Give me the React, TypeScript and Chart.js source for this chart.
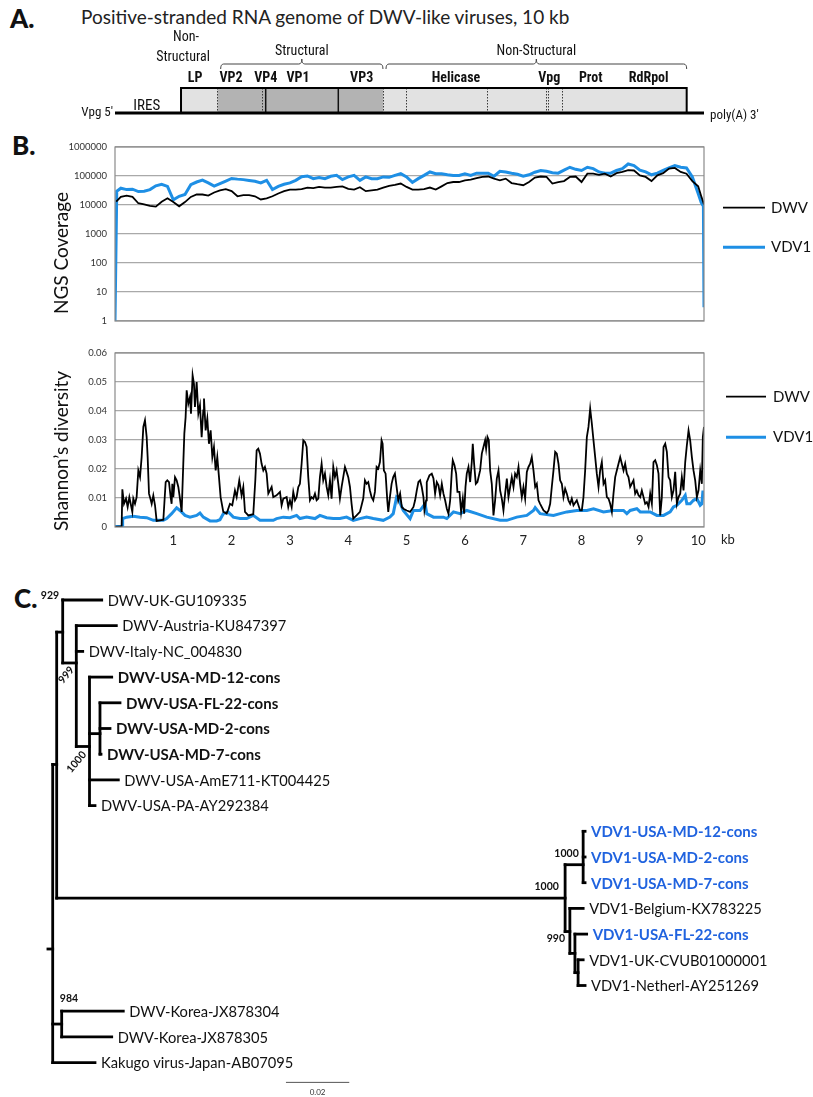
import React, { useEffect, useRef } from 'react';
import { Chart, registerables } from 'chart.js';

Chart.register(...registerables);

const W = 813;
const H = 1097;
const SANS = "Lato, 'Open Sans', 'Noto Sans', sans-serif";
const NARROW = "'Liberation Sans Narrow', 'Arial Narrow', 'Roboto Condensed', 'DejaVu Sans Condensed', sans-serif";
const BLUE_LINE = '#1e8fe5';
const BLUE_TEXT = '#2063df';
const PLOT_LEFT = 115;
const PLOT_RIGHT = 704;

// ---------------- Panel A: genome map (positions in kb) ----------------
const genomeKbMax = 10.1;
const segmentGroups = ['Non-Structural', 'Structural', 'Non-Structural'];
const segmentStartKb = [1.132, 1.754, 4.59];
const segmentEndKb = [1.754, 4.59, 9.803];
const proteinNames = ['LP', 'VP2', 'VP4', 'VP1', 'VP3', 'Helicase', 'Vpg', 'Prot', 'RdRpol'];
const proteinLabelKb = [1.372, 1.989, 2.584, 3.138, 4.23, 5.847, 7.447, 8.157, 9.151];
const dottedBoundaryKb = [1.754, 2.526, 4.59, 4.99, 6.384, 7.39, 7.43, 7.66];
const solidBoundaryKb = [2.584, 3.829];
const bracketNames = ['Structural', 'Non-Structural'];
const bracketStartKb = [1.812, 4.647];
const bracketEndKb = [4.595, 9.803];
const leaderLabelKb = 1.166;
const iresLabelKb = 0.544;

// ---------------- Panel B: NGS coverage ----------------
const coverageGridKb = Array.from({ length: 100 }, (_, i) => (i + 1) / 10);
const vdv1CoverageKb = [0, 0.03, ...coverageGridKb, 10.05, 10.09, 10.1];
const vdv1Coverage = [
  1, 30000,
  38000, 34000, 35000, 29000, 30000, 34000, 46000, 52000, 44000, 15000,
  20000, 23000, 50000, 62000, 72000, 58000, 45000, 55000, 67000, 82000,
  78000, 75000, 70000, 66000, 58000, 71000, 34000, 44000, 52000, 58000,
  71000, 95000, 100000, 81000, 89000, 81000, 98000, 105000, 75000, 93000,
  105000, 71000, 93000, 81000, 81000, 93000, 90000, 105000, 120000, 93000,
  60000, 81000, 105000, 138000, 120000, 120000, 110000, 105000, 105000, 120000,
  105000, 125000, 125000, 125000, 98000, 145000, 138000, 125000, 115000, 98000,
  110000, 135000, 155000, 145000, 130000, 125000, 160000, 200000, 170000, 155000,
  200000, 180000, 138000, 125000, 125000, 155000, 180000, 260000, 230000, 160000,
  138000, 110000, 125000, 155000, 190000, 230000, 200000, 190000, 93000, 25000,
  12600, 9000, 3,
];
const dwvCoverageKb = [0.02, ...coverageGridKb, 10.05, 10.1];
const dwvCoverage = [
  13000,
  19000, 21000, 19000, 11500, 10500, 9400, 8800, 13000, 17000, 12600,
  9000, 12600, 19000, 23000, 23000, 21000, 27000, 32000, 35000, 30000,
  20000, 22000, 22000, 20000, 15500, 17000, 20000, 25000, 30000, 34000,
  34000, 35000, 40000, 38000, 42000, 40000, 40000, 42000, 44000, 36000,
  34000, 41000, 30000, 32000, 34000, 40000, 46000, 49000, 55000, 42000,
  34000, 34000, 35000, 40000, 34000, 44000, 57000, 62000, 62000, 71000,
  75000, 84000, 93000, 96000, 81000, 71000, 81000, 57000, 52000, 48000,
  62000, 88000, 96000, 93000, 55000, 62000, 67000, 93000, 96000, 62000,
  120000, 120000, 110000, 120000, 96000, 125000, 138000, 160000, 155000, 105000,
  93000, 67000, 105000, 125000, 180000, 190000, 138000, 120000, 67000, 44000,
  21000, 10500,
];
const coverageTicks = [1, 10, 100, 1000, 10000, 100000, 1000000];

// ---------------- Panel B: Shannon's diversity ----------------
const dwvShannonKb = [
  0, 0.114, 0.126, 0.154, 0.189, 0.217, 0.246, 0.269, 0.297, 0.314, 0.343, 0.371, 0.4, 0.429, 0.457, 0.486,
  0.514, 0.543, 0.56, 0.583, 0.6, 0.629, 0.657, 0.686, 0.714, 0.771, 0.829, 0.869, 0.897, 0.926, 0.954, 0.971,
  0.983, 1.0, 1.029, 1.057, 1.086, 1.114, 1.143, 1.171, 1.189, 1.211, 1.229, 1.257, 1.286, 1.303, 1.331, 1.354,
  1.371, 1.4, 1.429, 1.457, 1.486, 1.514, 1.526, 1.554, 1.583, 1.611, 1.64, 1.669, 1.697, 1.726, 1.754, 1.783,
  1.811, 1.857, 1.914, 1.971, 2.011, 2.057, 2.086, 2.131, 2.171, 2.2, 2.229, 2.286, 2.371, 2.406, 2.429, 2.457,
  2.486, 2.514, 2.543, 2.571, 2.6, 2.629, 2.657, 2.686, 2.714, 2.771, 2.829, 2.857, 2.886, 2.943, 2.971, 3.0,
  3.029, 3.057, 3.086, 3.114, 3.143, 3.171, 3.2, 3.229, 3.257, 3.286, 3.314, 3.343, 3.371, 3.4, 3.429, 3.457,
  3.486, 3.514, 3.543, 3.571, 3.6, 3.629, 3.657, 3.686, 3.714, 3.743, 3.771, 3.8, 3.829, 3.857, 3.886, 3.914,
  3.943, 3.971, 4.0, 4.029, 4.057, 4.086, 4.143, 4.2, 4.257, 4.286, 4.314, 4.343, 4.371, 4.4, 4.429, 4.457,
  4.486, 4.514, 4.543, 4.571, 4.589, 4.611, 4.64, 4.669, 4.686, 4.714, 4.743, 4.771, 4.8, 4.829, 4.857, 4.889,
  4.918, 4.946, 5.003, 5.06, 5.118, 5.146, 5.175, 5.203, 5.232, 5.26, 5.289, 5.306, 5.335, 5.346, 5.392, 5.432,
  5.461, 5.489, 5.518, 5.547, 5.575, 5.604, 5.632, 5.661, 5.69, 5.718, 5.747, 5.775, 5.792, 5.821, 5.85, 5.872,
  5.907, 5.935, 5.964, 5.987, 6.01, 6.032, 6.061, 6.09, 6.118, 6.135, 6.158, 6.187, 6.215, 6.261, 6.29, 6.318,
  6.347, 6.364, 6.387, 6.41, 6.433, 6.461, 6.49, 6.518, 6.547, 6.576, 6.604, 6.633, 6.661, 6.69, 6.719, 6.747,
  6.776, 6.804, 6.833, 6.861, 6.89, 6.919, 6.947, 6.976, 7.004, 7.033, 7.062, 7.09, 7.119, 7.147, 7.176, 7.205,
  7.233, 7.262, 7.29, 7.348, 7.405, 7.433, 7.462, 7.49, 7.519, 7.548, 7.576, 7.605, 7.633, 7.662, 7.69, 7.719,
  7.748, 7.776, 7.805, 7.833, 7.862, 7.919, 7.976, 8.005, 8.033, 8.062, 8.091, 8.119, 8.148, 8.177, 8.205, 8.234,
  8.262, 8.291, 8.319, 8.348, 8.377, 8.405, 8.434, 8.462, 8.491, 8.52, 8.548, 8.577, 8.605, 8.634, 8.663, 8.691,
  8.72, 8.748, 8.777, 8.805, 8.834, 8.891, 8.92, 8.948, 8.977, 9.006, 9.034, 9.063, 9.091, 9.12, 9.149, 9.177,
  9.206, 9.234, 9.263, 9.292, 9.32, 9.349, 9.377, 9.406, 9.435, 9.463, 9.492, 9.52, 9.549, 9.577, 9.606, 9.635,
  9.663, 9.692, 9.72, 9.749, 9.778, 9.806, 9.835, 9.863, 9.892, 9.92, 9.949, 9.978, 10.006, 10.035, 10.063, 10.08,
  10.1,
];
const dwvShannon = [
  0, 0.0002, 0.013, 0.008, 0.0098, 0.0069, 0.0103, 0.008, 0.0052, 0.0098, 0.008, 0.0103, 0.0195, 0.0172, 0.0241, 0.0345,
  0.0368, 0.031, 0.0241, 0.0115, 0.0103, 0.008, 0.0109, 0.0075, 0.0021, 0.0023, 0.0025, 0.0155, 0.0161, 0.0155, 0.0103, 0.008,
  0.0149, 0.0103, 0.0172, 0.0161, 0.0138, 0.0098, 0.0052, 0.0218, 0.0322, 0.0379, 0.0471, 0.0425, 0.0448, 0.0391, 0.0523, 0.0494,
  0.0414, 0.05, 0.0391, 0.042, 0.031, 0.0402, 0.0443, 0.0333, 0.0374, 0.0287, 0.0333, 0.0241, 0.0276, 0.0195, 0.0241, 0.0172,
  0.0103, 0.0052, 0.0046, 0.008, 0.0075, 0.0126, 0.0103, 0.0161, 0.0109, 0.0138, 0.0052, 0.004, 0.0044, 0.0161, 0.0264, 0.027,
  0.0253, 0.0218, 0.0195, 0.0207, 0.0184, 0.0115, 0.0126, 0.0138, 0.0103, 0.0109, 0.0121, 0.0075, 0.0098, 0.0103, 0.0069, 0.0092,
  0.0069, 0.0121, 0.0092, 0.0103, 0.0138, 0.0149, 0.0218, 0.0299, 0.0293, 0.0276, 0.0172, 0.0092, 0.0103, 0.0098, 0.0115, 0.0092,
  0.0098, 0.0172, 0.0218, 0.0161, 0.0184, 0.0138, 0.0109, 0.0161, 0.0098, 0.0207, 0.0172, 0.0195, 0.0149, 0.0098, 0.0138, 0.0172,
  0.0207, 0.019, 0.0172, 0.0138, 0.008, 0.0029, 0.004, 0.0052, 0.0098, 0.0161, 0.0149, 0.0155, 0.0126, 0.0103, 0.0092, 0.0121,
  0.0207, 0.0201, 0.0224, 0.0299, 0.0287, 0.0195, 0.0184, 0.0092, 0.0052, 0.0103, 0.0149, 0.0172, 0.0184, 0.0138, 0.0092, 0.0115,
  0.0069, 0.0063, 0.0057, 0.0052, 0.0069, 0.0092, 0.0126, 0.0155, 0.0161, 0.0138, 0.0103, 0.0057, 0.0092, 0.0155, 0.0178, 0.0184,
  0.0167, 0.0115, 0.0155, 0.0144, 0.0109, 0.0149, 0.0115, 0.0092, 0.0063, 0.0046, 0.0092, 0.019, 0.023, 0.0213, 0.0184, 0.0121,
  0.0121, 0.0052, 0.0098, 0.0046, 0.0138, 0.0184, 0.0207, 0.0155, 0.0224, 0.0287, 0.0218, 0.0149, 0.0155, 0.0195, 0.0253, 0.0276,
  0.0299, 0.027, 0.031, 0.0299, 0.0195, 0.0149, 0.004, 0.0092, 0.0167, 0.0195, 0.0126, 0.0098, 0.0057, 0.0115, 0.0167, 0.0103,
  0.0138, 0.0172, 0.0138, 0.0184, 0.0172, 0.0207, 0.0149, 0.0103, 0.0138, 0.0098, 0.019, 0.0207, 0.0218, 0.0241, 0.0195, 0.0138,
  0.0149, 0.0092, 0.008, 0.0057, 0.0048, 0.0057, 0.008, 0.0138, 0.0195, 0.0259, 0.0253, 0.0218, 0.0161, 0.0149, 0.0103, 0.0132,
  0.0115, 0.0092, 0.008, 0.0098, 0.0075, 0.0092, 0.0057, 0.0057, 0.0103, 0.0195, 0.031, 0.0345, 0.0408, 0.0356, 0.0299, 0.0241,
  0.0184, 0.0138, 0.0195, 0.0224, 0.0149, 0.0161, 0.0103, 0.0098, 0.008, 0.0052, 0.0115, 0.0172, 0.0195, 0.0218, 0.0241, 0.0218,
  0.0195, 0.0218, 0.0184, 0.0172, 0.0138, 0.0161, 0.0115, 0.0126, 0.0109, 0.0103, 0.0126, 0.0103, 0.008, 0.0086, 0.0069, 0.0115,
  0.008, 0.0224, 0.023, 0.0213, 0.0184, 0.004, 0.0103, 0.0276, 0.0287, 0.0259, 0.0172, 0.0161, 0.0103, 0.0126, 0.019, 0.008,
  0.0103, 0.0115, 0.0172, 0.0126, 0.0224, 0.0282, 0.0333, 0.0299, 0.0241, 0.0195, 0.0161, 0.0103, 0.0126, 0.0195, 0.0149, 0.031,
  0.0345,
];
const vdv1ShannonKb = [
  0, 0.126, 0.131, 0.2, 0.314, 0.429, 0.543, 0.657, 0.829, 0.886, 0.971, 1.057, 1.114, 1.2, 1.286, 1.4,
  1.457, 1.514, 1.629, 1.743, 1.8, 1.857, 1.943, 2.029, 2.143, 2.257, 2.371, 2.486, 2.714, 2.771, 2.886, 3.0,
  3.114, 3.171, 3.286, 3.429, 3.514, 3.629, 3.743, 3.857, 3.971, 4.086, 4.2, 4.314, 4.429, 4.6, 4.714, 4.771,
  4.829, 4.857, 4.943, 5.06, 5.118, 5.232, 5.318, 5.346, 5.461, 5.632, 5.69, 5.804, 5.918, 6.032, 6.204, 6.376,
  6.604, 6.719, 6.89, 7.062, 7.176, 7.205, 7.29, 7.519, 7.633, 7.748, 7.919, 8.091, 8.205, 8.377, 8.548, 8.72,
  8.777, 8.834, 8.948, 9.006, 9.177, 9.292, 9.406, 9.52, 9.577, 9.635, 9.72, 9.778, 9.806, 9.863, 9.92, 9.978,
  10.035, 10.063, 10.08, 10.1,
];
const vdv1Shannon = [
  0.0002, 0.0002, 0.0029, 0.0034, 0.0037, 0.0034, 0.0032, 0.0023, 0.0023, 0.0029, 0.0046, 0.0066, 0.0057, 0.004, 0.0034, 0.004,
  0.0048, 0.0034, 0.0021, 0.0021, 0.0025, 0.0046, 0.0052, 0.0034, 0.0029, 0.0029, 0.004, 0.0023, 0.0023, 0.0029, 0.0034, 0.0032,
  0.004, 0.0029, 0.0034, 0.0029, 0.004, 0.0032, 0.0029, 0.0029, 0.0034, 0.0023, 0.0029, 0.0034, 0.0029, 0.0023, 0.0034, 0.0046,
  0.0103, 0.0098, 0.0057, 0.0029, 0.0057, 0.0057, 0.008, 0.0046, 0.0034, 0.0034, 0.0029, 0.0052, 0.0046, 0.0057, 0.0046, 0.0034,
  0.0023, 0.0023, 0.0034, 0.004, 0.0057, 0.0067, 0.0046, 0.004, 0.0046, 0.0052, 0.0057, 0.0057, 0.0063, 0.0052, 0.0057, 0.0057,
  0.0046, 0.0057, 0.0063, 0.0052, 0.0052, 0.004, 0.004, 0.0052, 0.0069, 0.0075, 0.0092, 0.0109, 0.008, 0.008, 0.0092, 0.0098,
  0.0075, 0.008, 0.0121, 0.0121,
];
const shannonTicks = [0, 0.01, 0.02, 0.03, 0.04, 0.05, 0.06];
const kbTicks = [1, 2, 3, 4, 5, 6, 7, 8, 9, 10];

// ---------------- Panel C: phylogenetic tree ----------------
// depth = substitutions/site from the root, row = vertical slot (leaves are 0..18)
const treeNodeNames = [
  'root', 'nDwvVdv', 'n929', 'DWV-UK-GU109335', 'n999', 'DWV-Austria-KU847397', 'DWV-Italy-NC_004830',
  'nUsa', 'DWV-USA-MD-12-cons', 'nUsa2', 'DWV-USA-FL-22-cons', 'DWV-USA-MD-2-cons', 'DWV-USA-MD-7-cons',
  'DWV-USA-AmE711-KT004425', 'DWV-USA-PA-AY292384', 'nVdv', 'nVdvUsa', 'VDV1-USA-MD-12-cons', 'VDV1-USA-MD-2-cons',
  'VDV1-USA-MD-7-cons', 'n990', 'VDV1-Belgium-KX783225', 'nVdv2', 'VDV1-USA-FL-22-cons', 'nVdv3',
  'VDV1-UK-CVUB01000001', 'VDV1-Netherl-AY251269', 'nKorea', 'DWV-Korea-JX878304', 'DWV-Korea-JX878305',
  'Kakugo virus-Japan-AB07095',
];
const treeNodeParent = [
  null, 'root', 'nDwvVdv', 'n929', 'n929', 'n999', 'n999',
  'n999', 'nUsa', 'nUsa', 'nUsa2', 'nUsa2', 'nUsa2',
  'nUsa', 'nUsa', 'nDwvVdv', 'nVdv', 'nVdvUsa', 'nVdvUsa',
  'nVdvUsa', 'nVdv', 'n990', 'n990', 'nVdv2', 'nVdv2',
  'nVdv3', 'nVdv3', 'root', 'nKorea', 'nKorea',
  'root',
];
const treeNodeDepth = [
  0, 0.00126, 0.00316, 0.01548, 0.00746, 0.0201, 0.00948,
  0.01163, 0.01864, 0.01494, 0.02126, 0.0181, 0.01526,
  0.02073, 0.01336, 0.1619, 0.1676, 0.1682, 0.1682,
  0.1682, 0.1634, 0.1676, 0.165, 0.1687, 0.166,
  0.1676, 0.1682, 0.00284, 0.0223, 0.01864,
  0.01336,
];
const treeNodeRow = [
  13.58, 6.4, 1.25, 0, 2.45, 1, 2,
  5.7, 3, 5.2, 4, 5, 6,
  7, 8, 11.6, 10.3, 9, 10,
  11, 12.9, 12, 13.75, 13, 14.5,
  14, 15, 16.5, 16, 17,
  18,
];
const rootStubDepth = -0.0015;
const bootstrapNodes = ['n929', 'n999', 'nUsa', 'nVdv', 'nVdvUsa', 'n990', 'nKorea'];
const bootstrapValues = ['929', '999', '1000', '1000', '1000', '990', '984'];
const scaleBarLength = 0.02;
const scaleBarStart = 0.0737;
const scaleBarRow = 18.77;

// ---------------- plugins ----------------
const genomePlugin = {
  id: 'genomeMap',
  afterDatasetsDraw(chart: any) {
    const { ctx, chartArea: ca, scales } = chart;
    const px = (v: number) => scales.x.getPixelForValue(v);
    ctx.save();
    ctx.strokeStyle = '#3a3a3a';
    ctx.lineWidth = 1;
    ctx.setLineDash([1.5, 1.5]);
    dottedBoundaryKb.forEach((k) => {
      const x = Math.round(px(k)) + 0.5;
      ctx.beginPath(); ctx.moveTo(x, ca.top); ctx.lineTo(x, ca.bottom); ctx.stroke();
    });
    ctx.setLineDash([]);
    ctx.strokeStyle = '#111';
    ctx.lineWidth = 1.5;
    solidBoundaryKb.forEach((k) => {
      const x = px(k);
      ctx.beginPath(); ctx.moveTo(x, ca.top); ctx.lineTo(x, ca.bottom); ctx.stroke();
    });
    ctx.lineWidth = 2;
    ctx.strokeStyle = '#000';
    const x0 = px(segmentStartKb[0]);
    const x1 = px(segmentEndKb[segmentEndKb.length - 1]);
    ctx.strokeRect(x0, ca.top, x1 - x0, ca.bottom - ca.top);
    ctx.lineWidth = 3;
    ctx.beginPath(); ctx.moveTo(px(0), ca.bottom); ctx.lineTo(px(genomeKbMax), ca.bottom); ctx.stroke();
    ctx.lineWidth = 1;
    ctx.strokeStyle = '#444';
    bracketNames.forEach((_, i) => {
      const b0 = px(bracketStartKb[i]);
      const b1 = px(bracketEndKb[i]);
      const mid = (b0 + b1) / 2;
      const yT = ca.top - 24, yE = ca.top - 19, yK = ca.top - 29;
      ctx.beginPath();
      ctx.moveTo(b0, yE);
      ctx.quadraticCurveTo(b0, yT, b0 + 3, yT);
      ctx.lineTo(mid - 3, yT);
      ctx.quadraticCurveTo(mid, yT, mid, yK);
      ctx.quadraticCurveTo(mid, yT, mid + 3, yT);
      ctx.lineTo(b1 - 3, yT);
      ctx.quadraticCurveTo(b1, yT, b1, yE);
      ctx.stroke();
    });
    ctx.fillStyle = '#111';
    ctx.textBaseline = 'middle';
    ctx.textAlign = 'center';
    ctx.font = `14px ${NARROW}`;
    ctx.fillText('Non-', px(leaderLabelKb) + 3, ca.top - 51);
    ctx.fillText('Structural', px(leaderLabelKb), ca.top - 31);
    bracketNames.forEach((n, i) => {
      ctx.fillText(n, (px(bracketStartKb[i]) + px(bracketEndKb[i])) / 2, ca.top - 37);
    });
    ctx.font = `bold 14px ${NARROW}`;
    proteinNames.forEach((n, i) => ctx.fillText(n, px(proteinLabelKb[i]), ca.top - 10));
    ctx.font = `15px ${NARROW}`;
    ctx.fillText('IRES', px(iresLabelKb), ca.bottom - 7);
    ctx.font = `13px ${NARROW}`;
    ctx.textAlign = 'right';
    ctx.fillText("Vpg 5'", px(0) - 2, ca.bottom);
    ctx.textAlign = 'left';
    ctx.fillText("poly(A) 3'", px(genomeKbMax) + 6, ca.bottom + 3);
    ctx.restore();
  },
};

function framePlugin(opts: any) {
  return {
    id: 'frame',
    afterDraw(chart: any) {
      const { ctx, chartArea: ca, scales } = chart;
      ctx.save();
      ctx.strokeStyle = '#8a8a8a';
      ctx.lineWidth = 1.2;
      ctx.strokeRect(ca.left, ca.top, ca.right - ca.left, ca.bottom - ca.top);
      ctx.fillStyle = '#333';
      ctx.font = `9.5px ${SANS}`;
      ctx.textAlign = 'right';
      ctx.textBaseline = 'middle';
      opts.yTicks.forEach((v: number) => {
        ctx.fillText(opts.yFormat(v), ca.left - 8, scales.y.getPixelForValue(v));
      });
      ctx.fillStyle = '#111';
      ctx.font = `19px ${SANS}`;
      ctx.textAlign = 'center';
      ctx.translate(opts.titleX, opts.titleY);
      ctx.rotate(-Math.PI / 2);
      ctx.fillText(opts.title, 0, 0);
      ctx.restore();
      ctx.save();
      chart.data.datasets.forEach((ds: any, i: number) => {
        const y = opts.legendY[i];
        ctx.strokeStyle = ds.borderColor;
        ctx.lineWidth = ds.borderWidth;
        ctx.beginPath();
        ctx.moveTo(ca.right + opts.legendX0, y);
        ctx.lineTo(ca.right + opts.legendX1, y);
        ctx.stroke();
        ctx.fillStyle = '#111';
        ctx.font = `15px ${SANS}`;
        ctx.textAlign = 'left';
        ctx.textBaseline = 'middle';
        ctx.fillText(ds.label, ca.right + opts.legendText, y);
      });
      if (opts.unit) {
        ctx.font = `13px ${SANS}`;
        ctx.fillStyle = '#222';
        ctx.textAlign = 'left';
        ctx.textBaseline = 'middle';
        ctx.fillText(opts.unit, ca.right + 17, ca.bottom + 13);
      }
      ctx.restore();
    },
  };
}

const bootstrapStyle: any = {
  n929: { dx: -12.7, dy: -37, rot: 0 },
  n999: { dx: -10, dy: 12, rot: -0.87 },
  nUsa: { dx: -13, dy: 15.5, rot: -0.87 },
  nVdv: { dx: -18.4, dy: -11.3, rot: 0 },
  nVdvUsa: { dx: -16.6, dy: -11.4, rot: 0 },
  n990: { dx: -14, dy: 7, rot: 0 },
  nKorea: { dx: 7.3, dy: -25, rot: 0 },
};

const treeLabelPlugin = {
  id: 'treeLabels',
  afterDatasetsDraw(chart: any) {
    const { ctx, scales } = chart;
    const X = (v: number) => scales.x.getPixelForValue(v);
    const Y = (v: number) => scales.y.getPixelForValue(v);
    ctx.save();
    ctx.textBaseline = 'middle';
    ctx.textAlign = 'left';
    treeNodeNames.forEach((name, i) => {
      if (treeNodeParent.includes(name)) return;
      const bold = name.endsWith('-cons');
      ctx.font = bold ? `bold 15px ${SANS}` : `14.7px ${SANS}`;
      ctx.fillStyle = name.startsWith('VDV1-USA') ? BLUE_TEXT : '#111';
      ctx.fillText(name, X(treeNodeDepth[i]) + 6, Y(treeNodeRow[i]) + 1);
    });
    ctx.font = `bold 10.5px ${SANS}`;
    ctx.fillStyle = '#111';
    ctx.textAlign = 'center';
    bootstrapNodes.forEach((n, k) => {
      const i = treeNodeNames.indexOf(n);
      const s = bootstrapStyle[n];
      ctx.save();
      ctx.translate(X(treeNodeDepth[i]) + s.dx, Y(treeNodeRow[i]) + s.dy);
      ctx.rotate(s.rot);
      ctx.fillText(bootstrapValues[k], 0, 0);
      ctx.restore();
    });
    ctx.font = `8px ${SANS}`;
    ctx.fillStyle = '#333';
    ctx.fillText(String(scaleBarLength), X(scaleBarStart + scaleBarLength / 2), Y(scaleBarRow) + 10);
    ctx.restore();
  },
};

// ---------------- chart configs ----------------
function genomeConfig() {
  return {
    type: 'bar',
    data: {
      labels: ['genome'],
      datasets: segmentStartKb.map((s, i) => ({
        label: segmentGroups[i],
        data: [[s, segmentEndKb[i]]],
        backgroundColor: segmentGroups[i] === 'Structural' ? '#b3b3b3' : '#e2e2e2',
        borderWidth: 0,
        grouped: false,
        barPercentage: 1,
        categoryPercentage: 1,
      })),
    },
    options: {
      indexAxis: 'y',
      responsive: false,
      animation: false,
      devicePixelRatio: 1,
      layout: { padding: { left: PLOT_LEFT, right: W - PLOT_RIGHT, top: 88, bottom: 12 } },
      scales: {
        x: { type: 'linear', min: 0, max: genomeKbMax, display: false },
        y: { type: 'category', display: false },
      },
      plugins: { legend: { display: false }, tooltip: { enabled: false } },
    },
    plugins: [genomePlugin],
  };
}

function toPoints(xs: number[], ys: number[]) {
  return xs.map((x, i) => ({ x, y: ys[i] }));
}

function yAxisBase(extra: any) {
  return {
    afterFit: (s: any) => { s.width = 30; },
    ticks: { display: false },
    grid: { color: '#a9a9a9', lineWidth: 1.2, drawTicks: false },
    border: { display: false },
    ...extra,
  };
}

function coverageConfig() {
  return {
    type: 'scatter',
    data: {
      datasets: [
        { label: 'DWV', data: toPoints(dwvCoverageKb, dwvCoverage), showLine: true, borderColor: '#000', borderWidth: 1.8, pointRadius: 0 },
        { label: 'VDV1', data: toPoints(vdv1CoverageKb, vdv1Coverage), showLine: true, borderColor: BLUE_LINE, borderWidth: 3, pointRadius: 0 },
      ],
    },
    options: {
      responsive: false,
      animation: false,
      devicePixelRatio: 1,
      layout: { padding: { left: PLOT_LEFT - 30, right: W - PLOT_RIGHT, top: 17, bottom: 19 } },
      scales: {
        x: { type: 'linear', min: 0, max: genomeKbMax, display: false },
        y: yAxisBase({
          type: 'logarithmic', min: 1, max: 1000000,
          afterBuildTicks: (s: any) => { s.ticks = coverageTicks.map((v) => ({ value: v })); },
        }),
      },
      plugins: { legend: { display: false }, tooltip: { enabled: false } },
    },
    plugins: [framePlugin({
      title: 'NGS Coverage', titleX: 62, titleY: 123, legendY: [77.7, 117.3], legendX0: 19, legendX1: 61, legendText: 67,
      yTicks: coverageTicks, yFormat: (v: number) => String(v),
    })],
  };
}

function shannonConfig() {
  return {
    type: 'scatter',
    data: {
      datasets: [
        { label: 'DWV', data: toPoints(dwvShannonKb, dwvShannon), showLine: true, borderColor: '#000', borderWidth: 1.8, pointRadius: 0 },
        { label: 'VDV1', data: toPoints(vdv1ShannonKb, vdv1Shannon), showLine: true, borderColor: BLUE_LINE, borderWidth: 3, pointRadius: 0 },
      ],
    },
    options: {
      responsive: false,
      animation: false,
      devicePixelRatio: 1,
      layout: { padding: { left: PLOT_LEFT - 30, right: W - PLOT_RIGHT, top: 13, bottom: 0 } },
      scales: {
        x: {
          type: 'linear', min: 0, max: genomeKbMax,
          afterBuildTicks: (s: any) => { s.ticks = kbTicks.map((v) => ({ value: v })); },
          afterFit: (s: any) => { s.height = 33; },
          ticks: { font: { size: 13, family: SANS }, color: '#222', padding: 6, maxRotation: 0, autoSkip: false, callback: (v: any) => String(v) },
          grid: { display: false, drawTicks: false },
          border: { display: false },
        },
        y: yAxisBase({
          type: 'linear', min: 0, max: 0.06,
          afterBuildTicks: (s: any) => { s.ticks = shannonTicks.map((v) => ({ value: v })); },
        }),
      },
      plugins: { legend: { display: false }, tooltip: { enabled: false } },
    },
    plugins: [framePlugin({
      title: 'Shannon\u2019s diversity', titleX: 62, titleY: 111, legendY: [56.7, 97.3], legendX0: 22, legendX1: 62, legendText: 69, unit: 'kb',
      yTicks: shannonTicks, yFormat: (v: number) => (v === 0 ? '0' : v.toFixed(2)),
    })],
  };
}

function treeConfig() {
  const segs: any[] = [];
  const idx = (n: string) => treeNodeNames.indexOf(n);
  treeNodeNames.forEach((name, i) => {
    const p = treeNodeParent[i];
    if (p !== null) {
      const pi = idx(p);
      segs.push([{ x: treeNodeDepth[pi], y: treeNodeRow[i] }, { x: treeNodeDepth[i], y: treeNodeRow[i] }]);
    }
    const kids = treeNodeParent.map((q, j) => (q === name ? j : -1)).filter((j) => j >= 0);
    if (kids.length) {
      const rows = kids.map((j) => treeNodeRow[j]);
      segs.push([{ x: treeNodeDepth[i], y: Math.min(...rows) }, { x: treeNodeDepth[i], y: Math.max(...rows) }]);
    }
  });
  const r = idx('root');
  segs.push([{ x: rootStubDepth, y: treeNodeRow[r] }, { x: 0, y: treeNodeRow[r] }]);
  const datasets: any[] = segs.map((s) => ({
    data: s, showLine: true, borderColor: '#000', borderWidth: 2.8, pointRadius: 0,
    borderCapStyle: 'square', clip: false,
  }));
  datasets.push({
    data: [{ x: scaleBarStart, y: scaleBarRow }, { x: scaleBarStart + scaleBarLength, y: scaleBarRow }],
    showLine: true, borderColor: '#555', borderWidth: 1, pointRadius: 0, clip: false,
  });
  return {
    type: 'scatter',
    data: { datasets },
    options: {
      responsive: false,
      animation: false,
      devicePixelRatio: 1,
      layout: { padding: { left: 52.7, right: W - (52.7 + 0.2 * 3165), top: 20, bottom: 34.4 } },
      scales: {
        x: { type: 'linear', min: 0, max: 0.2, display: false },
        y: { type: 'linear', min: 0, max: 18, reverse: true, display: false },
      },
      plugins: { legend: { display: false }, tooltip: { enabled: false } },
    },
    plugins: [treeLabelPlugin],
  };
}

function ChartCanvas({ top, height, make }: any) {
  const ref = useRef<HTMLCanvasElement | null>(null);
  useEffect(() => {
    const chart = new Chart(ref.current as any, make());
    return () => chart.destroy();
  }, []);
  return (
    <canvas
      ref={ref}
      width={W}
      height={height}
      style={{ position: 'absolute', left: 0, top, width: W, height, display: 'block' }}
    />
  );
}

const panelLetter = (left: number, top: number): any => ({
  position: 'absolute', left, top, font: `900 26px ${SANS}`, color: '#111', lineHeight: '30px',
});

export default function App() {
  return (
    <div style={{ position: 'absolute', left: 0, top: 0, width: W, height: H, background: '#fff', overflow: 'hidden' }}>
      <div style={panelLetter(10, 3)}>A.</div>
      <div style={{ position: 'absolute', left: 81, top: 5, font: `19px ${SANS}`, color: '#222', whiteSpace: 'nowrap', lineHeight: '24px' }}>
        Positive-stranded RNA genome of DWV-like viruses, 10 kb
      </div>
      <div style={panelLetter(12, 130)}>B.</div>
      <div style={panelLetter(14, 583)}>C.</div>
      <ChartCanvas top={0} height={125} make={genomeConfig} />
      <ChartCanvas top={130} height={210} make={coverageConfig} />
      <ChartCanvas top={340} height={220} make={shannonConfig} />
      <ChartCanvas top={580} height={517} make={treeConfig} />
    </div>
  );
}
